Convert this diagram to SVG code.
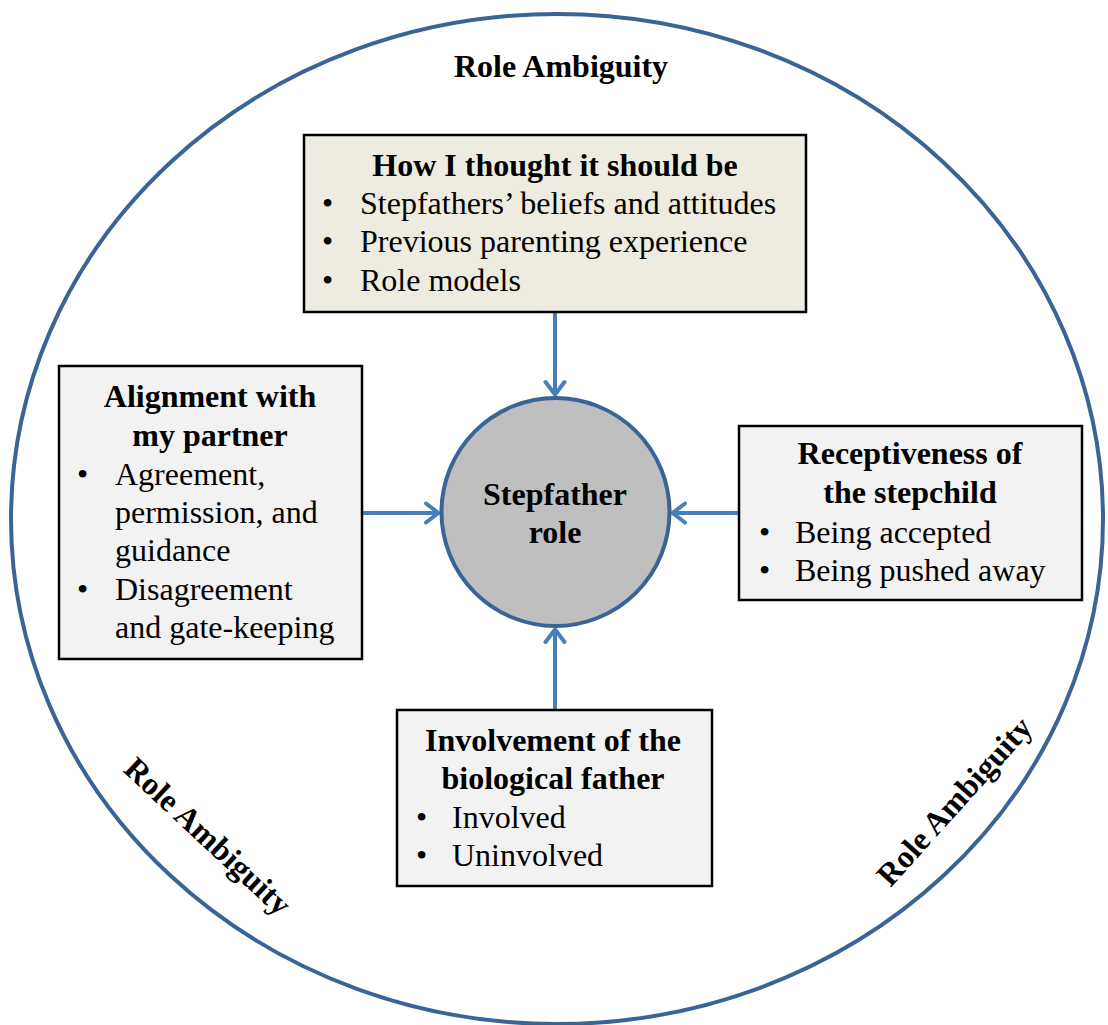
<svg xmlns="http://www.w3.org/2000/svg" width="1108" height="1025" viewBox="0 0 1108 1025">
<style>
text{font-family:"Liberation Serif","Times New Roman",serif;font-size:32px;fill:#000}
.b{font-weight:bold}
.c{text-anchor:middle}
.box{stroke:#000;stroke-width:2.5}
.con{stroke:#4A7EBB;stroke-width:4;fill:none}
</style>
<defs>
<marker id="arr" viewBox="0 0 18 24" refX="16" refY="12" markerWidth="18" markerHeight="24" markerUnits="userSpaceOnUse" orient="auto">
<path d="M3,2.5 L15.5,12 L3,21.5" fill="none" stroke="#4A7EBB" stroke-width="4" stroke-linecap="round" stroke-linejoin="round"/>
</marker>
</defs>
<rect width="1108" height="1025" fill="#fff"/>
<g id="outer">
<ellipse cx="557" cy="519" rx="546" ry="505" fill="none" stroke="#3A6496" stroke-width="4"/>
<text class="b c" x="561" y="77">Role Ambiguity</text>
<text class="b c" transform="translate(208,836) rotate(43)" y="11">Role Ambiguity</text>
<text class="b c" transform="translate(954,801) rotate(-48)" y="11">Role Ambiguity</text>
</g>
<g id="connectors">
<line class="con" x1="555" y1="312" x2="555" y2="395" marker-end="url(#arr)"/>
<line class="con" x1="362" y1="513" x2="439" y2="513" marker-end="url(#arr)"/>
<line class="con" x1="739" y1="513" x2="672" y2="513" marker-end="url(#arr)"/>
<line class="con" x1="555" y1="710" x2="555" y2="629" marker-end="url(#arr)"/>
</g>
<g id="center">
<circle cx="555.5" cy="512" r="114" fill="#BFBFBF" stroke="#3A6496" stroke-width="4"/>
<text class="b c" x="555" y="505">Stepfather</text>
<text class="b c" x="555" y="543">role</text>
</g>
<g id="top">
<rect class="box" x="304" y="135" width="502" height="177" fill="#EEECE1"/>
<text class="b c" x="555" y="176">How I thought it should be</text>
<text x="322" y="214">•</text><text x="360" y="214">Stepfathers’ beliefs  and attitudes</text>
<text x="322" y="252">•</text><text x="360" y="252">Previous parenting experience</text>
<text x="322" y="291">•</text><text x="360" y="291">Role models</text>
</g>
<g id="left">
<rect class="box" x="59" y="366" width="303" height="293" fill="#F2F2F2"/>
<text class="b c" x="210" y="407">Alignment with</text>
<text class="b c" x="210" y="446">my partner</text>
<text x="77" y="485">•</text><text x="115" y="485">Agreement,</text>
<text x="115" y="523">permission, and</text>
<text x="115" y="561">guidance</text>
<text x="77" y="600">•</text><text x="115" y="600">Disagreement</text>
<text x="115" y="638">and gate-keeping</text>
</g>
<g id="right">
<rect class="box" x="739" y="426" width="343" height="174" fill="#F2F2F2"/>
<text class="b c" x="910" y="464">Receptiveness of</text>
<text class="b c" x="910" y="503">the stepchild</text>
<text x="759" y="543">•</text><text x="795" y="543">Being accepted</text>
<text x="759" y="581">•</text><text x="795" y="581">Being pushed away</text>
</g>
<g id="bottom">
<rect class="box" x="397" y="710" width="315" height="176" fill="#F2F2F2"/>
<text class="b c" x="553" y="751">Involvement of the</text>
<text class="b c" x="553" y="789">biological father</text>
<text x="416" y="828">•</text><text x="452" y="828">Involved</text>
<text x="416" y="866">•</text><text x="452" y="866">Uninvolved</text>
</g>
</svg>
